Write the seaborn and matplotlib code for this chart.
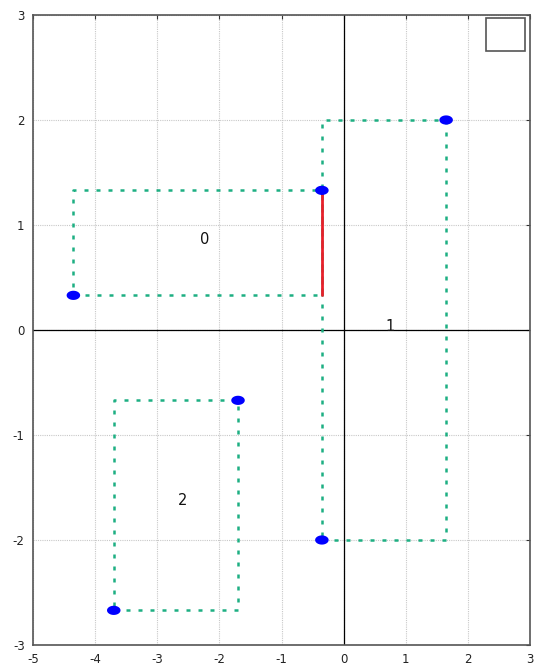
import numpy as np
import pandas as pd
import matplotlib
matplotlib.use("Agg")
import matplotlib.pyplot as plt
from matplotlib.path import Path
import seaborn as sns

# Rectangles: id, lower-left and upper-right corners
rect_id = [0, 1, 2]
x_lo = [-4.35, -0.35, -3.70]
x_hi = [-0.35, 1.65, -1.70]
y_lo = [0.33, -2.00, -2.67]
y_hi = [1.33, 2.00, -0.67]

# Label positions for each rectangle
label_x = [-2.23, 0.75, -2.60]
label_y = [0.86, 0.03, -1.62]

# Highlighted segment
seg_x = [-0.35, -0.35]
seg_y = [0.33, 1.33]

x_ticks = [-5, -4, -3, -2, -1, 0, 1, 2, 3]
y_ticks = [-3, -2, -1, 0, 1, 2, 3]

sns.set_style("white")
plt.rcParams["font.family"] = ["DejaVu Sans"]

fig = plt.figure(figsize=(5.40, 6.71), dpi=100)
ax = fig.add_axes([33 / 540, 1 - 645 / 671, (530 - 33) / 540, (645 - 15) / 671])

# outline paths for each rectangle
rows = []
for r, a, b, c, d in zip(rect_id, x_lo, x_hi, y_lo, y_hi):
    for k, (px, py) in enumerate([(a, c), (b, c), (b, d), (a, d), (a, c)]):
        rows.append({"rect": r, "order": k, "x": px, "y": py})
outline = pd.DataFrame(rows)

green = "#1daf82"
for r in rect_id:
    sub = outline[outline["rect"] == r]
    sns.lineplot(data=sub, x="x", y="y", sort=False, estimator=None, ax=ax,
                 color=green, lw=1.8, linestyle=(0, (1.6, 3.2)), zorder=3)

sns.lineplot(x=seg_x, y=seg_y, sort=False, estimator=None, ax=ax,
             color="#e8202a", lw=2.0, zorder=4)

# corner markers (flattened ellipse)
t = np.linspace(0, 2 * np.pi, 40)
ell = Path(np.column_stack([np.cos(t), 0.68 * np.sin(t)]), closed=True)
pts = pd.DataFrame({"x": x_lo + x_hi, "y": y_lo + y_hi})
sns.scatterplot(data=pts, x="x", y="y", ax=ax, marker=ell, s=95,
                color="#0000ff", edgecolor="none", zorder=5)

for lx, ly, r in zip(label_x, label_y, rect_id):
    ax.text(lx, ly, str(r), ha="center", va="center", fontsize=10.5,
            color="#111111", zorder=6)

ax.set_xlim(-5, 3)
ax.set_ylim(-3, 3)
ax.set_xticks(x_ticks)
ax.set_yticks(y_ticks)
ax.set_xticklabels([str(v) for v in x_ticks])
ax.set_yticklabels([str(v) for v in y_ticks])
ax.set_xlabel("")
ax.set_ylabel("")
ax.grid(True, color="#c8c8c8", linestyle=(0, (1, 1)), lw=0.8)
ax.set_axisbelow(True)
ax.axhline(0, color="black", lw=0.9, zorder=2)
ax.axvline(0, color="black", lw=0.9, zorder=2)

for sp in ax.spines.values():
    sp.set_color("#555555")
    sp.set_linewidth(1.2)
ax.tick_params(axis="both", labelsize=8.5, colors="#333333", length=3,
               direction="in", pad=6, top=True, right=True)
ax.tick_params(axis="both", labelcolor="#222222")

# empty legend frame in the upper right corner
ax.add_patch(plt.Rectangle((486 / 540, 1 - 51 / 671), 39 / 540, 33 / 671,
                           transform=fig.transFigure, fill=False,
                           edgecolor="#555555", lw=1.2, zorder=7))

fig.savefig("out.png", dpi=100)
